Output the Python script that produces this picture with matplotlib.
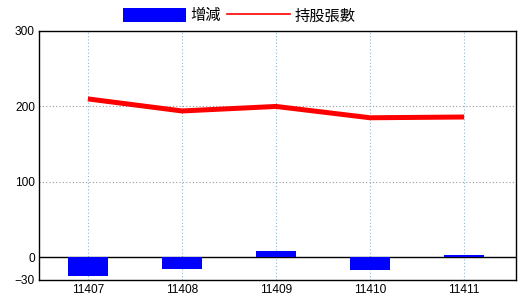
import matplotlib
matplotlib.use('Agg')
import matplotlib.pyplot as plt
from matplotlib.patches import Patch
from matplotlib.lines import Line2D

plt.rcParams['font.family'] = ['Noto Sans CJK TC', 'DejaVu Sans']

months = ['11407', '11408', '11409', '11410', '11411']
change = [-25, -15, 8, -17, 3]          # 增減
holdings = [210, 194, 200, 185, 186]    # 持股張數

fig = plt.figure(figsize=(5.2, 3.0), dpi=100)
ax = fig.add_axes([0.075, 0.0667, 0.917, 0.83])

x = list(range(len(months)))
ax.bar(x, change, width=0.425, color='#0000ff', zorder=3)
ax.plot(x, holdings, color='#ff0000', lw=3.6, solid_capstyle='butt', zorder=4)
ax.axhline(0, color='black', lw=1, zorder=2)

ax.set_xlim(-0.52, 4.55)
ax.set_ylim(-30, 300)
ax.set_yticks([-30, 0, 100, 200, 300])
ax.set_xticks(x)
ax.set_xticklabels(months)
ax.tick_params(length=0, labelsize=8.6, pad=3)
for lab in ax.get_yticklabels() + ax.get_xticklabels():
    lab.set_fontfamily(['Liberation Sans'])

# 格線
for xi in x:
    ax.axvline(xi, color='#8fb8d0', lw=0.8, ls=(0, (1, 2)), zorder=1)
for yv in [100, 200]:
    ax.axhline(yv, color='#999999', lw=0.8, ls=(0, (1, 2)), zorder=1)
for s in ax.spines.values():
    s.set_linewidth(1)

handles = [Patch(facecolor='#0000ff', edgecolor='none'),
           Line2D([0], [0], color='#ff0000', lw=1.2)]
fig.legend(handles, ['增減', '持股張數'], loc='center', ncol=2,
           bbox_to_anchor=(0.46, 0.947), frameon=False, fontsize=11,
           handlelength=4.1, handleheight=1.05, handletextpad=0.3,
           columnspacing=0.4, borderpad=0)

fig.savefig('out.png', dpi=100)
